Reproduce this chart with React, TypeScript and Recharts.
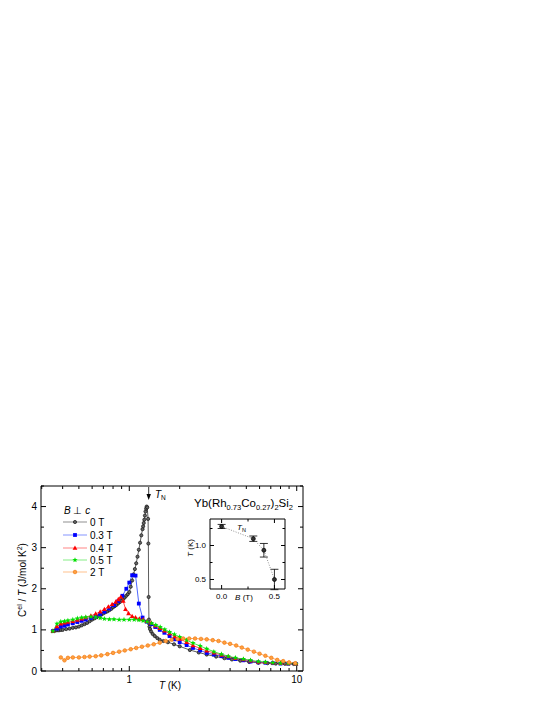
import React from 'react'
import { ComposedChart, ErrorBar, Line, XAxis, YAxis } from 'recharts'

// 0 T (dense data)
const T_0T = [
  0.35, 0.36, 0.37, 0.38, 0.39, 0.4, 0.42, 0.44, 0.46, 0.48, 0.5, 0.52, 0.54, 0.56, 0.58, 0.6, 0.62, 0.64, 0.66,
  0.68, 0.7, 0.72, 0.74, 0.76, 0.78, 0.8, 0.82, 0.84, 0.86, 0.88, 0.9, 0.92, 0.94, 0.96, 0.98, 1.0, 1.02, 1.04,
  1.06, 1.08, 1.1, 1.12, 1.14, 1.16, 1.18, 1.2, 1.21, 1.22, 1.23, 1.24, 1.25, 1.26, 1.27, 1.28, 1.295, 1.3, 1.305,
  1.31, 1.315, 1.32, 1.33, 1.35, 1.38, 1.42, 1.47, 1.52, 1.6, 1.7, 1.85, 2.0, 2.3, 2.6, 2.9, 3.3, 3.7, 4.1, 4.6,
  5.2, 5.9, 6.7, 7.5, 8.5, 9.6,
]
const C_0T = [
  0.97, 0.98, 0.99, 0.99, 1.0, 1.0, 1.02, 1.03, 1.05, 1.06, 1.08, 1.11, 1.14, 1.17, 1.21, 1.25, 1.28, 1.31, 1.34,
  1.37, 1.4, 1.43, 1.45, 1.48, 1.51, 1.55, 1.58, 1.61, 1.65, 1.68, 1.72, 1.75, 1.79, 1.83, 1.87, 1.92, 2.05, 2.2,
  2.35, 2.48, 2.62, 2.78, 2.95, 3.12, 3.3, 3.45, 3.52, 3.6, 3.68, 3.78, 3.88, 3.95, 4.0, 3.98, 3.7, 3.1, 1.8,
  1.25, 1.15, 1.08, 1.02, 0.96, 0.9, 0.85, 0.8, 0.76, 0.73, 0.7, 0.65, 0.6, 0.51, 0.45, 0.4, 0.35, 0.31, 0.28, 0.25,
  0.22, 0.2, 0.19, 0.18, 0.175, 0.17,
]

// 0.3 T
const T_03T = [
  0.35, 0.37, 0.39, 0.41, 0.43, 0.46, 0.49, 0.52, 0.55, 0.59, 0.63, 0.67, 0.71, 0.76, 0.81, 0.86, 0.91, 0.96, 1.0,
  1.04, 1.09, 1.14, 1.2, 1.27, 1.35, 1.43, 1.52, 1.62, 1.74, 1.87, 2.0, 2.2, 2.4, 2.65, 2.9, 3.2, 3.55, 3.9, 4.3,
  4.8, 5.3, 5.9, 6.5, 7.2, 8.0, 8.9, 9.9,
]
const C_03T = [
  0.97, 1.03, 1.08, 1.1, 1.13, 1.16, 1.19, 1.22, 1.25, 1.29, 1.33, 1.38, 1.44, 1.52, 1.6, 1.7, 1.83, 2.0, 2.15,
  2.33, 2.32, 1.64, 1.3, 1.2, 1.14, 1.07, 1.0, 0.93, 0.85, 0.77, 0.7, 0.63, 0.56, 0.5, 0.44, 0.4, 0.36, 0.32, 0.29,
  0.26, 0.23, 0.21, 0.2, 0.19, 0.18, 0.175, 0.17,
]

// 0.4 T
const T_04T = [
  0.35, 0.37, 0.39, 0.41, 0.43, 0.46, 0.49, 0.52, 0.55, 0.59, 0.63, 0.67, 0.71, 0.75, 0.79, 0.83, 0.86, 0.89, 0.92,
  0.95, 0.99, 1.04, 1.09, 1.15, 1.21, 1.28, 1.35, 1.43, 1.52, 1.62, 1.74, 1.87, 2.0, 2.2, 2.4, 2.65, 2.9, 3.2, 3.55,
  3.9, 4.3, 4.8, 5.3, 5.9, 6.5, 7.2, 8.0, 8.9, 9.9,
]
const C_04T = [
  0.97, 1.08, 1.15, 1.17, 1.19, 1.21, 1.24, 1.27, 1.3, 1.34, 1.39, 1.44, 1.5, 1.56, 1.62, 1.68, 1.74, 1.8, 1.7,
  1.5, 1.4, 1.33, 1.3, 1.27, 1.25, 1.21, 1.17, 1.1, 1.04, 0.98, 0.91, 0.84, 0.78, 0.7, 0.62, 0.55, 0.49, 0.44, 0.39,
  0.35, 0.31, 0.28, 0.25, 0.22, 0.21, 0.2, 0.19, 0.18, 0.175,
]

// 0.5 T
const T_05T = [
  0.35, 0.37, 0.39, 0.41, 0.43, 0.46, 0.49, 0.52, 0.55, 0.59, 0.63, 0.67, 0.71, 0.76, 0.81, 0.87, 0.93, 1.0, 1.07,
  1.14, 1.21, 1.28, 1.36, 1.44, 1.53, 1.63, 1.74, 1.86, 2.0, 2.2, 2.4, 2.65, 2.9, 3.2, 3.55, 3.9, 4.3, 4.8, 5.3,
  5.9, 6.5, 7.2, 8.0, 8.9, 9.9,
]
const C_05T = [
  0.97, 1.15, 1.2, 1.21, 1.23, 1.25, 1.28, 1.3, 1.31, 1.32, 1.31, 1.29, 1.27, 1.26, 1.26, 1.25, 1.25, 1.25, 1.25,
  1.24, 1.22, 1.2, 1.16, 1.12, 1.07, 1.01, 0.95, 0.89, 0.83, 0.75, 0.68, 0.61, 0.54, 0.47, 0.41, 0.36, 0.32, 0.29,
  0.26, 0.23, 0.22, 0.2, 0.19, 0.18, 0.175,
]

// 2 T
const T_2T = [
  0.39, 0.41, 0.43, 0.46, 0.5, 0.54, 0.58, 0.63, 0.68, 0.74, 0.8, 0.87, 0.94, 1.02, 1.1, 1.19, 1.29, 1.4, 1.52,
  1.65, 1.79, 1.94, 2.1, 2.28, 2.47, 2.68, 2.9, 3.15, 3.41, 3.7, 4.0, 4.35, 4.7, 5.1, 5.55, 6.0, 6.5, 7.05, 7.65,
  8.3, 9.0, 9.8,
]
const C_2T = [
  0.33, 0.26, 0.32, 0.33, 0.33, 0.34, 0.35, 0.36, 0.38, 0.41, 0.44, 0.47, 0.5, 0.53, 0.56, 0.59, 0.62, 0.65, 0.69,
  0.73, 0.76, 0.78, 0.79, 0.79, 0.79, 0.78, 0.77, 0.75, 0.73, 0.69, 0.66, 0.62, 0.57, 0.52, 0.47, 0.42, 0.37, 0.32,
  0.27, 0.24, 0.21, 0.19,
]

// inset: T_N vs B
const B_FIELD = [0, 0.3, 0.4, 0.5]
const T_NEEL = [1.28, 1.1, 0.93, 0.5]
const T_NEEL_ERR = [0.03, 0.04, 0.1, 0.15]

const X_TICKS = [0.3, 0.4, 0.5, 0.6, 0.7, 0.8, 0.9, 1, 2, 3, 4, 5, 6, 7, 8, 9, 10]
const X_MAJOR = [1, 10]
const Y_TICKS = [0, 0.5, 1, 1.5, 2, 2.5, 3, 3.5, 4, 4.5]
const INSET_X_TICKS = [0, 0.25, 0.5]
const INSET_Y_TICKS = [0.5, 0.75, 1, 1.25]

const FONT = '"Liberation Sans", Arial, sans-serif'

const pts = (t: number[], c: number[]) => t.map((v, i) => ({ t: v, c: c[i] }))

const circleDot = (fill: string, stroke: string, r: number) => (p: any) => (
  <circle key={`c${p.index}`} cx={p.cx} cy={p.cy} r={r} fill={fill} stroke={stroke} strokeWidth={0.7} />
)
const squareDot = (fill: string) => (p: any) => (
  <rect key={`s${p.index}`} x={p.cx - 1.9} y={p.cy - 1.9} width={3.8} height={3.8} fill={fill} />
)
const triDot = (fill: string) => (p: any) => (
  <polygon
    key={`t${p.index}`}
    points={`${p.cx},${p.cy - 2.6} ${p.cx - 2.4},${p.cy + 1.7} ${p.cx + 2.4},${p.cy + 1.7}`}
    fill={fill}
  />
)
const starDot = (fill: string) => (p: any) => {
  const d: string[] = []
  for (let k = 0; k < 10; k++) {
    const r = k % 2 === 0 ? 2.8 : 1.2
    const a = -Math.PI / 2 + (k * Math.PI) / 5
    d.push(`${(p.cx + r * Math.cos(a)).toFixed(2)},${(p.cy + r * Math.sin(a)).toFixed(2)}`)
  }
  return <polygon key={`st${p.index}`} points={d.join(' ')} fill={fill} />
}

const SERIES = [
  { name: '0 T', data: pts(T_0T, C_0T), line: '#333333', dot: circleDot('#666666', '#111111', 1.6) },
  { name: '0.3 T', data: pts(T_03T, C_03T), line: '#2040ff', dot: squareDot('#0000ff') },
  { name: '0.4 T', data: pts(T_04T, C_04T), line: '#ff2020', dot: triDot('#ff0000') },
  { name: '0.5 T', data: pts(T_05T, C_05T), line: '#20e020', dot: starDot('#00e000') },
  { name: '2 T', data: pts(T_2T, C_2T), line: '#ff9030', dot: circleDot('#ffa040', '#f07810', 1.8) },
]

// tick helpers: ticks point inwards
const makeTick = (side: 'bottom' | 'top' | 'left' | 'right', isMajor: (v: number) => boolean, label?: (v: number) => string, big = 5, small = 3, fs = 10) =>
  (p: any) => {
    const v = p.payload.value
    const len = isMajor(v) ? big : small
    const { x, y } = p
    let line = null
    let text = null
    if (side === 'bottom') {
      line = <line x1={x} x2={x} y1={y} y2={y - len} stroke="#000" />
      if (label && isMajor(v)) text = <text x={x} y={y + fs + 2} textAnchor="middle" fontSize={fs} fontFamily={FONT}>{label(v)}</text>
    } else if (side === 'top') {
      line = <line x1={x} x2={x} y1={y} y2={y + len} stroke="#000" />
    } else if (side === 'left') {
      line = <line x1={x} x2={x + len} y1={y} y2={y} stroke="#000" />
      if (label && isMajor(v)) text = <text x={x - 4} y={y + fs * 0.36} textAnchor="end" fontSize={fs} fontFamily={FONT}>{label(v)}</text>
    } else {
      line = <line x1={x} x2={x - len} y1={y} y2={y} stroke="#000" />
    }
    return <g>{line}{text}</g>
  }

const isXMajor = (v: number) => X_MAJOR.includes(v)
const isYMajor = (v: number) => Number.isInteger(v)
const isInsetYMajor = (v: number) => v === 0.5 || v === 1
const isInsetXMajor = (v: number) => v === 0 || v === 0.5

const W = 545
const H = 705

const axisCommon = {
  interval: 0 as const,
  tickSize: 0,
  tickMargin: 0,
  tickLine: false,
  axisLine: { stroke: '#000' },
  allowDataOverflow: true,
}

export default function App() {
  return (
    <div style={{ position: 'absolute', left: 0, top: 0, width: W, height: H, fontFamily: FONT }}>
      <div style={{ position: 'absolute', left: 0, top: 0 }}>
        <ComposedChart width={W} height={H} margin={{ top: 485, left: 40, right: W - 304, bottom: H - 672 }}>
          <XAxis
            {...axisCommon}
            xAxisId="b"
            type="number"
            dataKey="t"
            scale="log"
            domain={[0.297, 10.9]}
            ticks={X_TICKS}
            height={1}
            tick={makeTick('bottom', isXMajor, (v) => String(v))}
          />
          <XAxis
            {...axisCommon}
            xAxisId="top"
            orientation="top"
            type="number"
            dataKey="t"
            scale="log"
            domain={[0.297, 10.9]}
            ticks={X_TICKS}
            height={1}
            tick={makeTick('top', isXMajor)}
          />
          <YAxis
            {...axisCommon}
            yAxisId="l"
            type="number"
            domain={[0, 4.5]}
            ticks={Y_TICKS}
            width={1}
            tick={makeTick('left', isYMajor, (v) => String(v))}
          />
          <YAxis
            {...axisCommon}
            yAxisId="r"
            orientation="right"
            type="number"
            domain={[0, 4.5]}
            ticks={Y_TICKS}
            width={1}
            tick={makeTick('right', isYMajor)}
          />
          {SERIES.map((s) => (
            <Line
              key={s.name}
              xAxisId="b"
              yAxisId="l"
              data={s.data}
              dataKey="c"
              type="linear"
              stroke={s.line}
              strokeWidth={0.8}
              dot={s.dot}
              activeDot={false}
              isAnimationActive={false}
            />
          ))}
        </ComposedChart>
      </div>

      {/* inset */}
      <div style={{ position: 'absolute', left: 0, top: 0 }}>
        <ComposedChart
          width={W}
          height={H}
          data={B_FIELD.map((b, i) => ({ b, tn: T_NEEL[i], err: T_NEEL_ERR[i] }))}
          margin={{ top: 518, left: 209, right: W - 286, bottom: H - 590 }}
        >
          <XAxis
            {...axisCommon}
            xAxisId="b"
            type="number"
            dataKey="b"
            domain={[-0.11, 0.6]}
            ticks={INSET_X_TICKS}
            height={1}
            tick={makeTick('bottom', isInsetXMajor, (v) => v.toFixed(1), 4, 2.5, 8)}
          />
          <XAxis
            {...axisCommon}
            xAxisId="t"
            orientation="top"
            type="number"
            dataKey="b"
            domain={[-0.11, 0.6]}
            ticks={INSET_X_TICKS}
            height={1}
            tick={makeTick('top', isInsetXMajor, undefined, 4, 2.5)}
          />
          <YAxis
            {...axisCommon}
            yAxisId="l"
            type="number"
            domain={[0.36, 1.39]}
            ticks={INSET_Y_TICKS}
            width={1}
            tick={makeTick('left', isInsetYMajor, (v) => v.toFixed(1), 4, 2.5, 8)}
          />
          <YAxis
            {...axisCommon}
            yAxisId="r"
            orientation="right"
            type="number"
            domain={[0.36, 1.39]}
            ticks={INSET_Y_TICKS}
            width={1}
            tick={makeTick('right', isInsetYMajor, undefined, 4, 2.5)}
          />
          <Line
            xAxisId="b"
            yAxisId="l"
            dataKey="tn"
            type="linear"
            stroke="#777"
            strokeWidth={0.8}
            strokeDasharray="1 1.5"
            dot={circleDot('#333', '#000', 2.0)}
            activeDot={false}
            isAnimationActive={false}
          >
            <ErrorBar dataKey="err" direction="y" width={4} stroke="#000" strokeWidth={0.8} />
          </Line>
        </ComposedChart>
      </div>

      {/* annotations */}
      <svg width={W} height={H} style={{ position: 'absolute', left: 0, top: 0, pointerEvents: 'none' }} fontFamily={FONT}>
        <text transform="translate(26,580) rotate(-90)" textAnchor="middle" fontSize={10}>
          C<tspan fontSize={7} dy={-4}>el</tspan>
          <tspan dy={4}> / </tspan>
          <tspan fontStyle="italic">T</tspan> (J/mol K<tspan fontSize={7} dy={-4}>2</tspan>
          <tspan dy={4}>)</tspan>
        </text>
        <text x={170} y={689} textAnchor="middle" fontSize={10}>
          <tspan fontStyle="italic">T</tspan> (K)
        </text>

        <line x1={148.7} x2={148.7} y1={487} y2={497} stroke="#000" strokeWidth={0.8} />
        <polygon points="146.5,494 150.9,494 148.7,500" fill="#000" />
        <text x={155} y={498} fontSize={10}>
          <tspan fontStyle="italic">T</tspan>
          <tspan fontSize={6.5} dy={2}>N</tspan>
        </text>

        <text x={194} y={507} fontSize={11.5}>
          Yb(Rh<tspan fontSize={7.5} dy={3}>0.73</tspan>
          <tspan dy={-3}>Co</tspan>
          <tspan fontSize={7.5} dy={3}>0.27</tspan>
          <tspan dy={-3}>)</tspan>
          <tspan fontSize={7.5} dy={3}>2</tspan>
          <tspan dy={-3}>Si</tspan>
          <tspan fontSize={7.5} dy={3}>2</tspan>
        </text>

        <text x={237} y={530} fontSize={8}>
          <tspan fontStyle="italic">T</tspan>
          <tspan fontSize={5.5} dy={2}>N</tspan>
        </text>
        <text transform="translate(193,548) rotate(-90)" textAnchor="middle" fontSize={8}>
          <tspan fontStyle="italic">T</tspan> (K)
        </text>
        <text x={244} y={600} textAnchor="middle" fontSize={8}>
          <tspan fontStyle="italic">B</tspan> (T)
        </text>

        {/* legend */}
        <text x={64} y={514} fontSize={10}>
          <tspan fontStyle="italic">B</tspan> ⊥ <tspan fontStyle="italic">c</tspan>
        </text>
        {SERIES.map((s, i) => {
          const y = [522, 535, 548, 560, 572][i]
          return (
            <g key={s.name}>
              <line x1={63} x2={87} y1={y} y2={y} stroke={s.line} strokeOpacity={0.55} strokeWidth={1} />
              {s.dot({ cx: 75, cy: y, index: `lg${i}` })}
              <text x={90} y={y + 3.6} fontSize={10}>
                {s.name}
              </text>
            </g>
          )
        })}
      </svg>
    </div>
  )
}
